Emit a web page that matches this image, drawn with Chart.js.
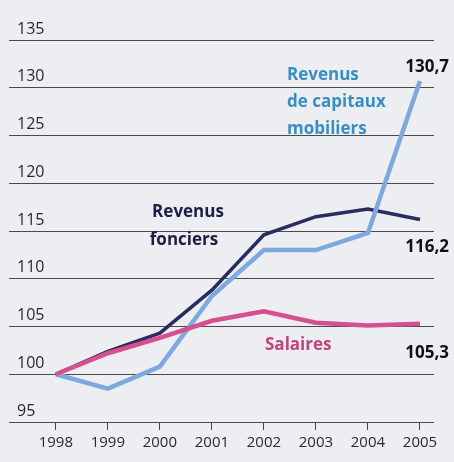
<!DOCTYPE html>
<html>
<head>
<meta charset="utf-8">
<script src="https://cdn.jsdelivr.net/npm/chart.js@4.4.1/dist/chart.umd.min.js"></script>
<style>
  html, body { margin: 0; padding: 0; background: #eceef1; }
  #wrap { width: 454px; height: 462px; }
</style>
</head>
<body>
<div id="wrap"><canvas id="revenusChart" width="454" height="462"></canvas></div>
<script>
// Data (index base 100 en 1998)
const years = [1998, 1999, 2000, 2001, 2002, 2003, 2004, 2005];
const salaires = [100, 102.2, 103.8, 105.6, 106.6, 105.4, 105.1, 105.3];
const capitaux = [100, 98.5, 100.8, 108.2, 113, 113, 114.8, 130.7];
const fonciers = [100, 102.4, 104.3, 108.8, 114.6, 116.5, 117.3, 116.2];
const yTicks = [95, 100, 105, 110, 115, 120, 125, 130, 135];

const toPoints = arr => arr.map((v, i) => ({ x: years[i], y: v }));

// **Text labels drawn next to the lines**
const labelPlugin = {
    id: 'labels',
    afterDatasetsDraw(chart) {
        const { ctx } = chart;
        const y = chart.scales.y;
        ctx.save();
        ctx.font = 'bold 17px "Open Sans", sans-serif';
        ctx.textBaseline = 'middle';

        // Revenus de capitaux mobiliers
        ctx.fillStyle = '#3b8ec4';
        ctx.textAlign = 'left';
        ctx.fillText('Revenus', 287, 75);
        ctx.fillText('de capitaux', 287, 102);
        ctx.fillText('mobiliers', 287, 129);

        // Revenus fonciers
        ctx.fillStyle = '#1e1e44';
        ctx.textAlign = 'center';
        ctx.fillText('Revenus', 188, 212);
        ctx.fillText('fonciers', 184, 240);

        // Salaires
        ctx.fillStyle = '#c2437d';
        ctx.textAlign = 'left';
        ctx.fillText('Salaires', 265, 345);

        // Final values
        ctx.fillStyle = '#111';
        ctx.textAlign = 'right';
        const xr = 449;
        ctx.fillText(capitaux[7].toString().replace('.', ','), xr, y.getPixelForValue(capitaux[7]) - 14);
        ctx.fillText(fonciers[7].toString().replace('.', ','), xr, y.getPixelForValue(fonciers[7]) + 28);
        ctx.fillText(salaires[7].toString().replace('.', ','), xr, y.getPixelForValue(salaires[7]) + 30);
        ctx.restore();
    }
};

let revenusChart;

function createChart() {
    const ctx = document.getElementById('revenusChart').getContext('2d');
    revenusChart = new Chart(ctx, {
        type: 'line',
        data: {
            datasets: [
                {
                    label: 'Salaires',
                    data: toPoints(salaires),
                    borderColor: '#d6508f',
                    borderWidth: 4.5,
                    pointRadius: 0,
                    tension: 0
                },
                {
                    label: 'Revenus de capitaux mobiliers',
                    data: toPoints(capitaux),
                    borderColor: '#7ea9de',
                    borderWidth: 4.5,
                    pointRadius: 0,
                    tension: 0
                },
                {
                    label: 'Revenus fonciers',
                    data: toPoints(fonciers),
                    borderColor: '#2b2b5e',
                    borderWidth: 3.5,
                    pointRadius: 0,
                    tension: 0
                }
            ]
        },
        options: {
            responsive: false,
            animation: false,
            layout: { padding: { top: 40, left: 9, right: 20, bottom: 6 } },
            plugins: {
                legend: { display: false },
                tooltip: { enabled: false }
            },
            scales: {
                x: {
                    type: 'linear',
                    min: 1997.1,
                    max: 2005.27,
                    afterBuildTicks: axis => { axis.ticks = years.map(v => ({ value: v })); },
                    grid: { drawOnChartArea: false, drawTicks: true, tickLength: 8, color: '#444', lineWidth: 1 },
                    border: { display: false },
                    ticks: {
                        color: '#2a2a2a',
                        font: { family: '"Open Sans", sans-serif', size: 15 },
                        padding: 4,
                        maxRotation: 0,
                        callback: v => String(v)
                    }
                },
                y: {
                    min: 95,
                    max: 135,
                    afterBuildTicks: axis => { axis.ticks = yTicks.map(v => ({ value: v })); },
                    afterFit: axis => { axis.width = 0; },
                    grid: { color: '#4a4a4a', lineWidth: 1, drawTicks: false },
                    border: { display: false },
                    ticks: {
                        mirror: true,
                        padding: 8,
                        labelOffset: -11,
                        color: '#2a2a2a',
                        font: { family: '"Open Sans", sans-serif', size: 16 }
                    }
                }
            }
        },
        plugins: [labelPlugin]
    });
}

document.addEventListener('DOMContentLoaded', function () {
    createChart();
});
</script>
</body>
</html>
